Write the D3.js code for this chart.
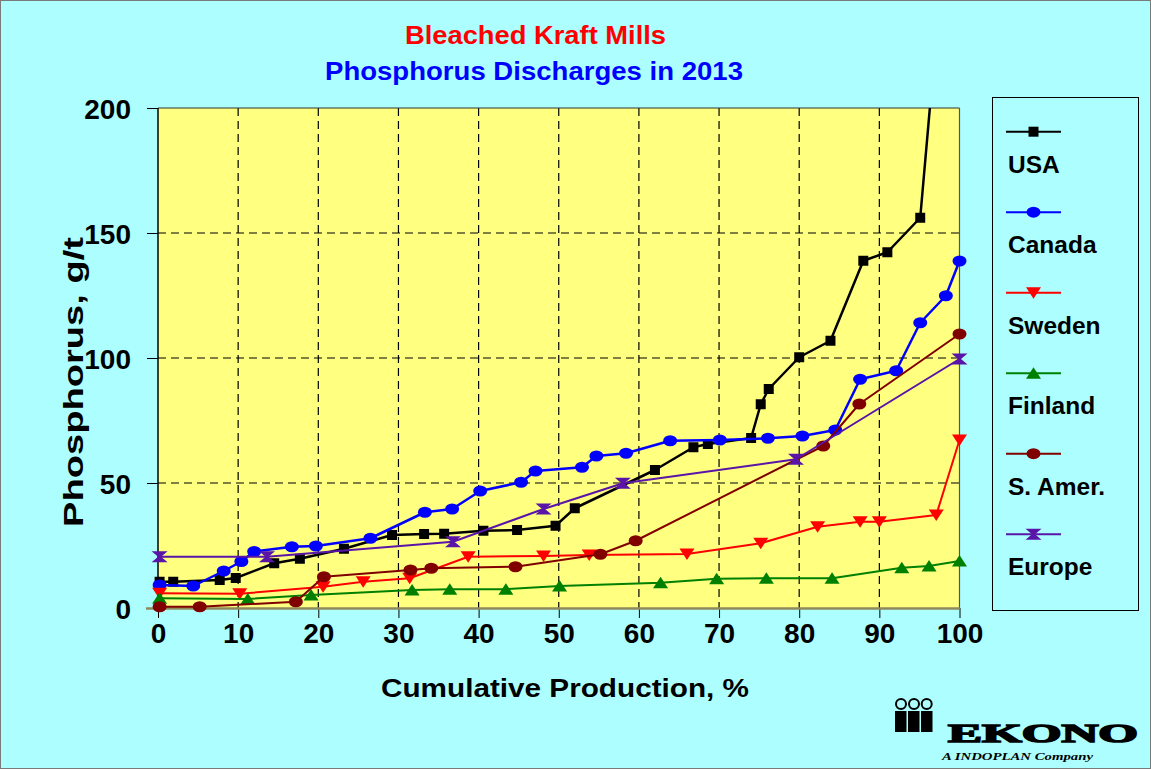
<!DOCTYPE html>
<html><head><meta charset="utf-8">
<script src="https://cdn.jsdelivr.net/npm/d3@7"></script>
<style>
body{margin:0;background:#adffff;}
svg{display:block;font-family:"Liberation Sans",Arial,sans-serif;font-weight:bold;}
</style>
</head><body><svg id="c" width="1151" height="769"></svg>
<script>
// ---- data ----
const title1 = "Bleached Kraft Mills";
const title2 = "Phosphorus Discharges in 2013";
const xLabel = "Cumulative Production, %";
const yLabel = "Phosphorus, g/t";
const xTicks = [0,10,20,30,40,50,60,70,80,90,100];
const yTicks = [0,50,100,150,200];
const seriesNames = ["USA","Canada","Sweden","Finland","S. Amer.","Europe"];

const usaX = [0.2,1.9,7.7,9.7,14.5,17.7,23.2,29.2,33.2,35.7,40.6,44.8,49.6,52,62,66.8,68.6,74,75.2,76.2,80,83.9,88,91,95.1,100];
const usaY = [10.5,10.5,11.2,12,17.9,19.7,23.7,29.2,29.6,29.7,30.9,31.2,32.9,39.9,55.2,64.3,65.6,68,81.5,87.6,100.3,106.9,138.9,142.3,156.1,335];
const canadaX = [0.2,4.4,8.2,10.4,12,16.7,19.7,26.5,33.3,36.7,40.2,45.3,47.1,52.9,54.7,58.4,63.9,70.1,76.1,80.4,84.5,87.6,92.1,95.1,98.3,100];
const canadaY = [9.2,8.8,14.8,18.6,22.6,24.5,24.8,27.9,38.3,39.6,46.8,50.3,54.8,56.3,60.8,61.9,66.9,67.2,67.9,68.8,71.2,91.5,94.9,114.1,124.9,138.8];
const swedenX = [0.2,10.2,20.6,25.6,31.4,38.7,48.1,53.8,66,75.2,82.3,87.6,90,97.1,100];
const swedenY = [5.9,5.7,8.5,10.5,11.9,20.5,20.8,21.2,21.6,25.9,32.5,34.5,34.5,37.2,67.2];
const finlandX = [0.2,11.2,19.1,31.7,36.4,43.4,50.1,62.7,69.7,75.9,84.1,92.8,96.2,100];
const finlandY = [3.9,3.6,5.2,7.2,7.5,7.5,8.8,10.1,11.7,11.9,11.9,16.1,16.8,18.8];
const samerX = [0.2,5.2,17.2,20.7,31.5,34.1,44.6,55.2,59.6,83,87.5,100];
const samerY = [0.5,0.5,2.5,12.5,15.2,15.9,16.5,21.5,26.9,64.8,81.6,109.6];
const europeX = [0.2,13.6,36.8,48.1,58,79.6,100];
const europeY = [20.5,20.5,26.5,39.6,49.9,59.5,99.6];

const colors = ["#000000","#0000ff","#ff0000","#008000","#800000","#5a14a8"];
const markers = ["square","circle","down","up","circle","hourglass"];
const widths = [2.5,2.5,2,2,2,2];

const series = [
  {name:seriesNames[0], xs:usaX, ys:usaY},
  {name:seriesNames[1], xs:canadaX, ys:canadaY},
  {name:seriesNames[2], xs:swedenX, ys:swedenY},
  {name:seriesNames[3], xs:finlandX, ys:finlandY},
  {name:seriesNames[4], xs:samerX, ys:samerY},
  {name:seriesNames[5], xs:europeX, ys:europeY}
].map((s,i)=>({...s, color:colors[i], marker:markers[i], w:widths[i], pts:s.xs.map((v,j)=>[v,s.ys[j]])}));

// ---- layout ----
const svg = d3.select("#c");
const L=158, R=959.5, T=108, B=608;
const x = d3.scaleLinear().domain([0,100]).range([L,R]);
const y = d3.scaleLinear().domain([0,200]).range([B,T]);

svg.append("rect").attr("x",0.5).attr("y",0.5).attr("width",1150).attr("height",768)
  .attr("fill","#adffff").attr("stroke","#7a7a7a");

// titles
svg.append("text").attr("x",535.5).attr("y",44).attr("text-anchor","middle")
  .attr("font-size",25).attr("fill","#ff0000").attr("textLength",261).attr("lengthAdjust","spacingAndGlyphs").text(title1);
svg.append("text").attr("x",534).attr("y",80).attr("text-anchor","middle")
  .attr("font-size",25).attr("fill","#0000ff").attr("textLength",418).attr("lengthAdjust","spacingAndGlyphs").text(title2);

// plot bg
svg.append("rect").attr("x",L).attr("y",T).attr("width",R-L).attr("height",B-T).attr("fill","#ffff80");

// grid
const g = svg.append("g");
g.selectAll(".vg").data(xTicks.filter(d=>d>0&&d<100)).join("line")
  .attr("x1",d=>x(d)).attr("x2",d=>x(d)).attr("y1",T).attr("y2",B)
  .attr("stroke","#000").attr("stroke-width",1.2).attr("stroke-dasharray","8,5");
g.selectAll(".hg").data(yTicks.filter(d=>d>0&&d<200)).join("line")
  .attr("x1",L).attr("x2",R).attr("y1",d=>y(d)).attr("y2",d=>y(d))
  .attr("stroke","#000").attr("stroke-width",1.2).attr("stroke-dasharray","8,5");

// frame top/right
svg.append("line").attr("x1",L).attr("x2",R).attr("y1",T).attr("y2",T).attr("stroke","#333").attr("stroke-width",1.2);
svg.append("line").attr("x1",R).attr("x2",R).attr("y1",T).attr("y2",B).attr("stroke","#555").attr("stroke-width",1.2);

// axes
const xAxis = d3.axisBottom(x).tickValues(xTicks).tickSize(10).tickPadding(14);
const gx = svg.append("g").attr("transform",`translate(0,${B})`).call(xAxis);
gx.select(".domain").remove();
gx.selectAll(".tick line").attr("stroke","#000").attr("stroke-width",1);
gx.selectAll(".tick text").attr("font-size",28).attr("font-family","Liberation Sans, Arial, sans-serif")
  .attr("font-weight","bold").attr("fill","#000").attr("dy","0.4em");
const yAxis = d3.axisLeft(y).tickValues(yTicks).tickSize(11).tickPadding(16);
const gy = svg.append("g").attr("transform",`translate(${L},0)`).call(yAxis);
gy.select(".domain").remove();
gy.selectAll(".tick line").attr("stroke","#000").attr("stroke-width",1);
gy.selectAll(".tick text").attr("font-size",28).attr("font-family","Liberation Sans, Arial, sans-serif")
  .attr("font-weight","bold").attr("fill","#000").attr("dy","0.36em");
svg.append("line").attr("x1",L).attr("x2",L).attr("y1",T).attr("y2",B).attr("stroke","#000").attr("stroke-width",1.5);
svg.append("line").attr("x1",146).attr("x2",R).attr("y1",B+0.5).attr("y2",B+0.5).attr("stroke","#8f8a5a").attr("stroke-width",2.5);

// axis titles
svg.append("text").attr("x",565).attr("y",697).attr("text-anchor","middle").attr("font-size",26)
  .attr("textLength",368).attr("lengthAdjust","spacingAndGlyphs").text(xLabel);
svg.append("text").attr("transform","translate(83,382) rotate(-90)").attr("text-anchor","middle").attr("font-size",27)
  .attr("textLength",290).attr("lengthAdjust","spacingAndGlyphs").text(yLabel);

// series
svg.append("clipPath").attr("id","clip").append("rect").attr("x",L).attr("y",T).attr("width",R-L+2).attr("height",B-T+2);
const line = d3.line().x(d=>x(d[0])).y(d=>y(d[1]));

function markerPath(type){
  switch(type){
    case "square": return "M-5,-5H5V5H-5Z";
    case "circle": return "M-7,0A7,5.5 0 1,0 7,0A7,5.5 0 1,0 -7,0Z";
    case "down": return "M-7.5,-5.5H7.5L0,6Z";
    case "up": return "M-7.5,5.5H7.5L0,-6Z";
    case "hourglass": return "M-8,-5.5H8L1.5,0L8,5.5H-8L-1.5,0Z";
  }
}

series.forEach(s=>{
  const gs = svg.append("g");
  gs.append("path").attr("d",line(s.pts)).attr("fill","none").attr("stroke",s.color)
    .attr("stroke-width",s.w).attr("stroke-linejoin","round").attr("clip-path","url(#clip)");
  gs.selectAll("path.m").data(s.pts.filter(p=>p[1]<=200)).join("path").attr("class","m")
    .attr("transform",d=>`translate(${x(d[0])},${y(d[1])})`).attr("d",markerPath(s.marker)).attr("fill",s.color);
});

// legend
const lg = svg.append("g");
lg.append("rect").attr("x",992.5).attr("y",97.5).attr("width",146).attr("height",513).attr("fill","#adffff").attr("stroke","#000").attr("stroke-width",1);
series.forEach((s,i)=>{
  const ly = 131.7 + 80.5*i;
  lg.append("line").attr("x1",1006).attr("x2",1061).attr("y1",ly).attr("y2",ly).attr("stroke",s.color).attr("stroke-width",2);
  lg.append("path").attr("transform",`translate(1033.5,${ly})`).attr("d",markerPath(s.marker)).attr("fill",s.color);
  lg.append("text").attr("x",1008).attr("y",ly+41).attr("font-size",24.5).text(s.name);
});

// logo
const logo = svg.append("g");
[901,914,926.7].forEach(cx=>logo.append("circle").attr("cx",cx).attr("cy",704).attr("r",5).attr("fill","none").attr("stroke","#000").attr("stroke-width",2));
[895,908,921].forEach(bx=>logo.append("rect").attr("x",bx).attr("y",711).attr("width",11.5).attr("height",21).attr("fill","#000"));
logo.append("text").attr("x",948).attr("y",742).attr("font-family","Liberation Serif, serif").attr("font-weight","900")
  .attr("font-size",26).attr("textLength",190).attr("lengthAdjust","spacingAndGlyphs").attr("stroke","#000").attr("stroke-width",1.5).text("EKONO");
logo.append("text").attr("x",942).attr("y",760).attr("font-family","Liberation Serif, serif").attr("font-style","italic")
  .attr("font-size",10).attr("textLength",151).attr("lengthAdjust","spacingAndGlyphs").text("A INDOPLAN Company");
</script>
</body></html>
